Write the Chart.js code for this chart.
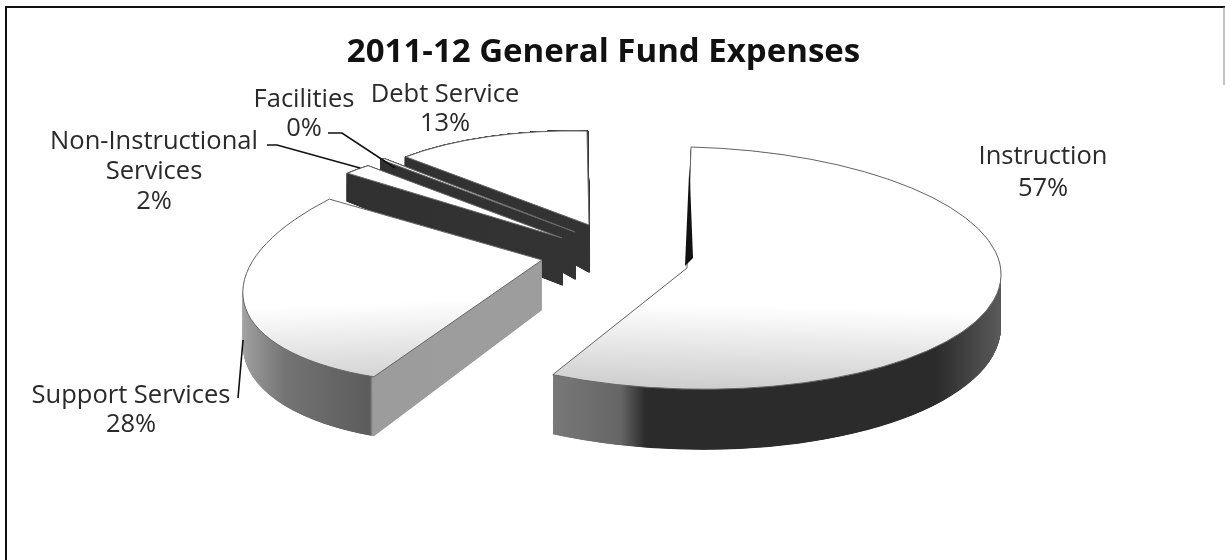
<!DOCTYPE html>
<html>
<head>
<meta charset="utf-8">
<title>2011-12 General Fund Expenses</title>
<script src="https://cdn.jsdelivr.net/npm/chart.js@4"></script>
<style>
  html, body { margin: 0; background: #fff; }
  canvas { display: block; }
</style>
</head>
<body>
<canvas id="myChart" width="1225" height="560"></canvas>
<script>
var titleText = "2011-12 General Fund Expenses";
var categories = ["Instruction", "Support Services", "Non-Instructional Services", "Facilities", "Debt Service"];
var values = [57, 28, 2, 0.3, 13];

// how each slice sits on the tilted page: apex, the two axes of its circle, wall height and taper
var views = [
  { apex: [687, 268], u: [314, 8], v: [-4, 121], depth: 52, taper: 0.07 },
  { apex: [542, 260], u: [295, -12], v: [-50, 123], depth: 50, taper: 0.08 },
  { apex: [562, 238], u: [262, 16], v: [0, 90], depth: 47, taper: 0.29 },
  { apex: [575, 232], u: [262, 16], v: [0, 90], depth: 47, taper: 0.5 },
  { apex: [589, 225], u: [250, 5], v: [2, 94], depth: 47, taper: 0.5 }
];
var drawOrder = [4, 3, 2, 1, 0];

var labelSpots = [
  { x: 1043, y: [157, 189], lines: ["Instruction"] },
  { x: 131, y: [396, 425], lines: ["Support Services"] },
  { x: 154, y: [142, 172, 202], lines: ["Non-Instructional", "Services"] },
  { x: 304, y: [100, 129], lines: ["Facilities"] },
  { x: 445, y: [95, 124], lines: ["Debt Service"] }
];
var leaders = [
  [[267, 145], [277, 145], [360, 168]],
  [[328, 133], [342, 133], [395, 168]],
  [[238, 398], [243, 340]]
];

function wallFill(ctx, i, arc) {
  var R = arc.outerRadius;
  var g = ctx.createLinearGradient(arc.x - R, 0, arc.x + R, 0);
  if (i === 0) {
    g.addColorStop(0.27, "#7c7c7c");
    g.addColorStop(0.4, "#666666");
    g.addColorStop(0.44, "#2b2b2b");
    g.addColorStop(0.9, "#2b2b2b");
    g.addColorStop(1, "#5a5a5a");
  } else if (i === 1) {
    g.addColorStop(0, "#a8a8a8");
    g.addColorStop(0.12, "#747474");
    g.addColorStop(0.285, "#5c5c5c");
    g.addColorStop(0.29, "#9c9c9c");
    g.addColorStop(1, "#a0a0a0");
  } else {
    g.addColorStop(0, "#303030");
    g.addColorStop(1, "#363636");
  }
  return g;
}

function topFill(ctx, i, arc) {
  if (i > 1) return "#ffffff";
  var R = arc.outerRadius;
  var g = ctx.createLinearGradient(0, arc.y + R * 0.3, 0, arc.y + R);
  g.addColorStop(0, "#ffffff");
  g.addColorStop(1, "#cdcdcd");
  return g;
}

function placeSlice(ctx, view, arc, t) {
  var R = arc.outerRadius;
  ctx.translate(view.apex[0], view.apex[1] + view.depth * t);
  ctx.scale(1, 1 + view.taper * t);
  ctx.transform(view.u[0] / R, view.u[1] / R, view.v[0] / R, view.v[1] / R, 0, 0);
  ctx.translate(-arc.x, -arc.y);
}

var pie3d = {
  id: "pie3d",
  beforeDatasetsDraw: function(chart) {
    var ctx = chart.ctx;
    var arcs = chart.getDatasetMeta(0).data;
    drawOrder.forEach(function(i) {
      var arc = arcs[i], view = views[i], base = arc.options;
      var wall = wallFill(ctx, i, arc);
      // narrow wedges get a border too, or their tips fade out between layers
      arc.options = Object.assign({}, base, {
        backgroundColor: wall,
        borderColor: wall,
        borderWidth: i > 1 ? 2 : 0,
        borderJoinStyle: "round"
      });
      for (var d = view.depth; d > 0; d -= 0.25) {
        ctx.save();
        placeSlice(ctx, view, arc, d / view.depth);
        arc.draw(ctx);
        ctx.restore();
      }
      arc.options = Object.assign({}, base, { backgroundColor: topFill(ctx, i, arc), borderWidth: 0 });
      ctx.save();
      placeSlice(ctx, view, arc, 0);
      arc.draw(ctx);
      ctx.restore();
      arc.options = base;

      // outline of the top face, kept one pixel wide on the page
      ctx.save();
      placeSlice(ctx, view, arc, 0);
      ctx.beginPath();
      ctx.moveTo(arc.x, arc.y);
      ctx.arc(arc.x, arc.y, arc.outerRadius, arc.startAngle, arc.endAngle);
      ctx.closePath();
      ctx.restore();
      ctx.strokeStyle = "#666";
      ctx.lineWidth = 1;
      ctx.stroke();

      if (i === 0) {
        // dark sliver of the cut wall along the twelve o'clock edge
        var a = view.apex;
        ctx.fillStyle = "#111";
        ctx.beginPath();
        ctx.moveTo(a[0] - view.v[0] * 0.85 - 1, a[1] - view.v[1] * 0.85);
        ctx.lineTo(a[0] + 6, a[1] - 10);
        ctx.lineTo(a[0] - 2, a[1] - 2);
        ctx.closePath();
        ctx.fill();
      }
    });
    return false;
  },
  afterDraw: function(chart) {
    var ctx = chart.ctx;
    ctx.save();

    // frame: only the top, the left and a scrap of the right side survive
    ctx.strokeStyle = "#111";
    ctx.lineWidth = 2;
    ctx.beginPath();
    ctx.moveTo(6, 560);
    ctx.lineTo(6, 7);
    ctx.lineTo(1225, 7);
    ctx.stroke();
    ctx.strokeStyle = "#888";
    ctx.lineWidth = 1;
    ctx.beginPath();
    ctx.moveTo(1224, 7);
    ctx.lineTo(1224, 85);
    ctx.stroke();

    ctx.strokeStyle = "#111";
    ctx.lineWidth = 1.6;
    leaders.forEach(function(pts) {
      ctx.beginPath();
      pts.forEach(function(p, k) {
        if (k === 0) ctx.moveTo(p[0], p[1]); else ctx.lineTo(p[0], p[1]);
      });
      ctx.stroke();
    });

    var total = values.reduce(function(s, v) { return s + v; }, 0);
    ctx.fillStyle = "#2a2a2a";
    ctx.font = "25.5px 'Open Sans'";
    ctx.textAlign = "center";
    ctx.textBaseline = "middle";
    labelSpots.forEach(function(spot, i) {
      var lines = spot.lines.concat([Math.round(values[i] / total * 100) + "%"]);
      lines.forEach(function(line, k) {
        ctx.fillText(line, spot.x, spot.y[k]);
      });
    });
    ctx.restore();
  }
};

var ctx = document.getElementById("myChart").getContext("2d");
var mychart = new Chart(ctx, {
  type: "pie",
  data: {
    labels: categories,
    datasets: [{
      data: values,
      backgroundColor: "#ffffff",
      borderWidth: 0
    }]
  },
  options: {
    responsive: false,
    animation: false,
    layout: { padding: { right: 18 } },
    plugins: {
      legend: { display: false },
      tooltip: { enabled: false },
      title: {
        display: true,
        text: titleText,
        color: "#111",
        font: { family: "Open Sans", size: 33, weight: "bold" },
        padding: { top: 33, bottom: 10 }
      }
    }
  },
  plugins: [pie3d]
});
</script>
</body>
</html>
